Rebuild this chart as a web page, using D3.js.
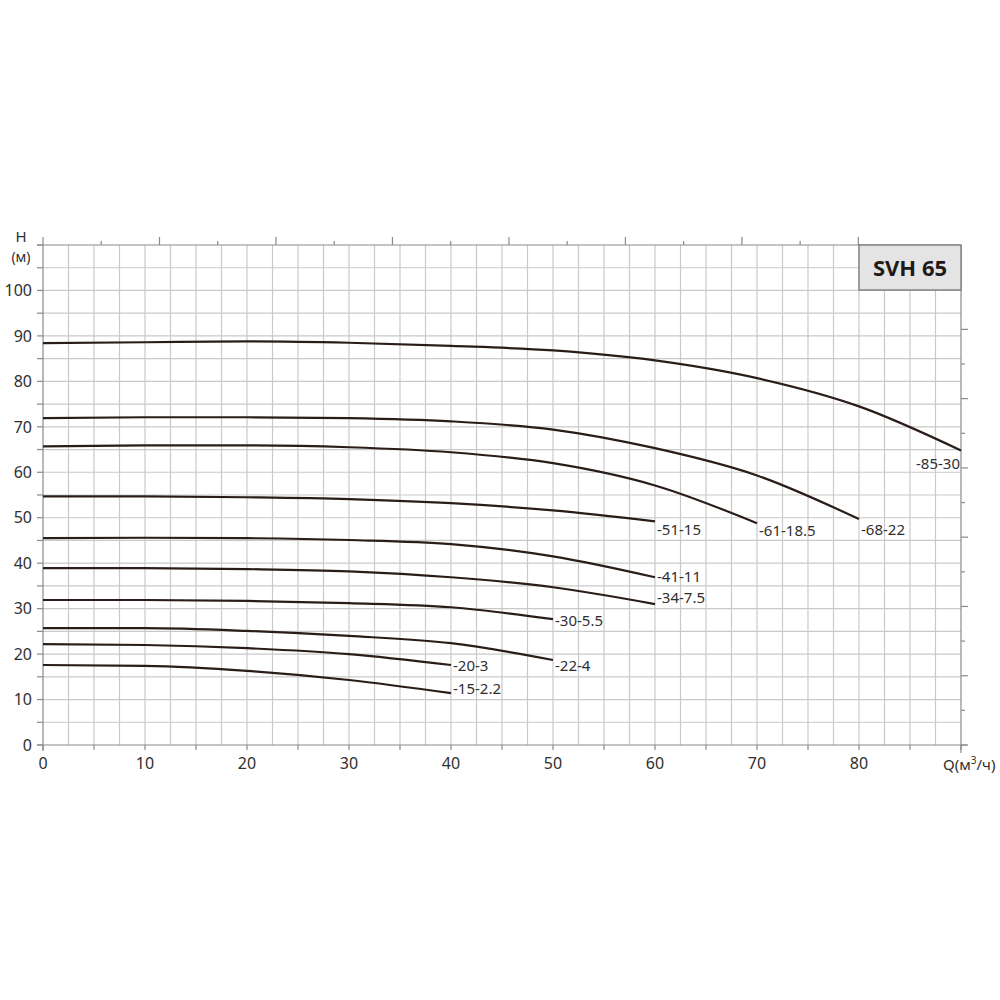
<!DOCTYPE html>
<html><head><meta charset="utf-8">
<script src="https://cdn.jsdelivr.net/npm/d3@7"></script>
<style>body{margin:0;background:#fff}svg{display:block}</style>
</head><body>
<svg id="c" width="1000" height="1000"></svg>
<script>
// ---- data ----
const flowQ = [0, 10, 20, 30, 40, 50, 60, 70, 80, 90];
const models = ["-85-30","-68-22","-61-18.5","-51-15","-41-11","-34-7.5","-30-5.5","-22-4","-20-3","-15-2.2"];
const head_85_30  = [88.4, 88.6, 88.8, 88.5, 87.8, 86.8, 84.6, 80.7, 74.5, 64.8];
const head_68_22  = [71.9, 72.1, 72.1, 71.9, 71.2, 69.4, 65.3, 59.3, 49.7];
const head_61_185 = [65.7, 65.9, 65.9, 65.5, 64.4, 62.0, 57.1, 48.8];
const head_51_15  = [54.7, 54.7, 54.5, 54.1, 53.2, 51.6, 49.2];
const head_41_11  = [45.5, 45.6, 45.5, 45.1, 44.2, 41.5, 36.9];
const head_34_75  = [38.9, 38.9, 38.7, 38.2, 36.9, 34.7, 31.0];
const head_30_55  = [31.9, 31.9, 31.7, 31.2, 30.3, 27.7];
const head_22_4   = [25.7, 25.7, 25.1, 24.0, 22.4, 18.7];
const head_20_3   = [22.2, 22.0, 21.3, 20.0, 17.6];
const head_15_22  = [17.6, 17.4, 16.3, 14.3, 11.4];
const heads = [head_85_30, head_68_22, head_61_185, head_51_15, head_41_11, head_34_75, head_30_55, head_22_4, head_20_3, head_15_22];
const xTicks = [0, 10, 20, 30, 40, 50, 60, 70, 80];
const yTicks = [0, 10, 20, 30, 40, 50, 60, 70, 80, 90, 100];
const gpmTicks = d3.range(0, 401, 25);   // secondary top axis (US gpm)
const ftTicks = d3.range(0, 301, 25);    // secondary right axis (ft)
const gpmToM3h = 0.2284;
const ftToM = 0.3048;
const title = "SVH 65";

// ---- layout (label vertical offsets in px from curve end) ----
const labelDy = [13, 11, 7, 8, -1, -6, 2, 6, 1, -5];

const svg = d3.select("#c");
const L = 43, R = 961, T = 245, B = 745;
const x = d3.scaleLinear().domain([0, 90]).range([L, R]);
const y = d3.scaleLinear().domain([0, 110]).range([B, T]);
const gridC = "#c9c9c9", axisC = "#8a8a8a", txtC = "#2f2f2f";
const font = "'Noto Sans', 'Open Sans', sans-serif";

// grid
const g = svg.append("g");
g.selectAll("line.v").data(d3.range(2.5, 90, 2.5)).join("line")
  .attr("x1", d => x(d)).attr("x2", d => x(d)).attr("y1", T).attr("y2", B)
  .attr("stroke", gridC).attr("stroke-width", 1.2);
g.selectAll("line.h").data(d3.range(5, 110, 5)).join("line")
  .attr("x1", L).attr("x2", R).attr("y1", d => y(d)).attr("y2", d => y(d))
  .attr("stroke", gridC).attr("stroke-width", 1.2);

// axes lines
const ax = svg.append("g").attr("stroke", axisC).attr("stroke-width", 1.2);
ax.append("line").attr("x1", L).attr("x2", L).attr("y1", T).attr("y2", B + 6);
ax.append("line").attr("x1", L - 6).attr("x2", R + 6).attr("y1", B).attr("y2", B);
ax.append("line").attr("x1", L - 6).attr("x2", R).attr("y1", T).attr("y2", T);
ax.append("line").attr("x1", R).attr("x2", R).attr("y1", T).attr("y2", B + 8);

// bottom ticks (every 5)
ax.selectAll("line.bt").data(d3.range(0, 91, 5)).join("line")
  .attr("x1", d => x(d)).attr("x2", d => x(d)).attr("y1", B).attr("y2", B + 5);
// left ticks (every 5)
ax.selectAll("line.lt").data(d3.range(0, 111, 5)).join("line")
  .attr("x1", L - 6).attr("x2", L).attr("y1", d => y(d)).attr("y2", d => y(d));
// top ticks (gpm)
ax.selectAll("line.tt").data(gpmTicks.filter(d => x(d * gpmToM3h) <= 860)).join("line")
  .attr("x1", d => x(d * gpmToM3h)).attr("x2", d => x(d * gpmToM3h))
  .attr("y1", T).attr("y2", d => T - (d % 50 === 0 ? 8 : 4));
// right ticks (ft)
ax.selectAll("line.rt").data(ftTicks).join("line")
  .attr("x1", R).attr("x2", d => R + (d % 50 === 0 ? 7 : 4))
  .attr("y1", d => y(d * ftToM)).attr("y2", d => y(d * ftToM));

// tick labels
svg.append("g").selectAll("text").data(yTicks).join("text")
  .attr("x", 32).attr("y", d => y(d)).attr("dy", "0.36em")
  .attr("text-anchor", "end").attr("font-family", font).attr("font-size", 16)
  .attr("fill", txtC).text(d => d);
svg.append("g").selectAll("text").data(xTicks).join("text")
  .attr("x", d => x(d)).attr("y", B + 24)
  .attr("text-anchor", "middle").attr("font-family", font).attr("font-size", 16)
  .attr("fill", txtC).text(d => d);

// axis titles
svg.append("text").attr("x", 21).attr("y", 242).attr("text-anchor", "middle")
  .attr("font-family", font).attr("font-size", 15).attr("fill", txtC).text("H");
svg.append("text").attr("x", 21).attr("y", 262).attr("text-anchor", "middle")
  .attr("font-family", font).attr("font-size", 14).attr("fill", txtC).text("(м)");
const qt = svg.append("text").attr("x", 943).attr("y", 770)
  .attr("font-family", font).attr("font-size", 15).attr("fill", txtC);
qt.append("tspan").text("Q(м");
qt.append("tspan").attr("font-size", 10).attr("dy", -6).text("3");
qt.append("tspan").attr("dy", 6).text("/ч)");

// curves
const line = d3.line().x((d, i) => x(flowQ[i])).y(d => y(d)).curve(d3.curveMonotoneX);
const cg = svg.append("g");
heads.forEach((h, k) => {
  cg.append("path").attr("d", line(h)).attr("fill", "none")
    .attr("stroke", "#2a1d18").attr("stroke-width", 2.2);
  const lx = x(flowQ[h.length - 1]), ly = y(h[h.length - 1]);
  const last = k === 0;
  cg.append("text")
    .attr("x", last ? lx - 1 : lx + 2)
    .attr("y", ly + labelDy[k]).attr("dy", "0.36em")
    .attr("text-anchor", last ? "end" : "start")
    .attr("font-family", font).attr("font-size", 15).attr("fill", txtC)
    .text(models[k]);
});

// title box
svg.append("rect").attr("x", 859).attr("y", T).attr("width", R - 859).attr("height", 45)
  .attr("fill", "#e4e4e4").attr("stroke", "#707070").attr("stroke-width", 1.2);
svg.append("text").attr("x", 910).attr("y", 268).attr("dy", "0.36em")
  .attr("text-anchor", "middle").attr("font-family", font).attr("font-weight", "bold")
  .attr("font-size", 22).attr("fill", "#1e1a18").text(title);
</script>
</body></html>
